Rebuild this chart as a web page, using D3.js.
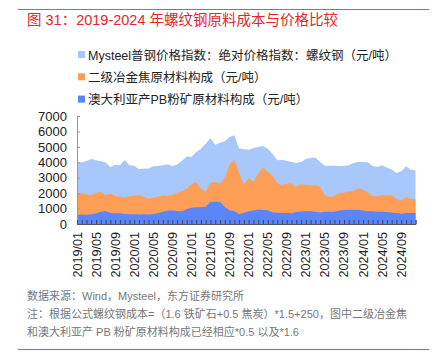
<!DOCTYPE html>
<html>
<head>
<meta charset="utf-8">
<script src="https://cdn.jsdelivr.net/npm/d3@7"></script>
<style>
  body { margin: 0; background: #fff; }
  svg { font-family: "Liberation Sans", Arial, "Noto Sans CJK SC", sans-serif; }
</style>
</head>
<body>
<div id="chart"></div>
<script>
// monthly 2019/01 .. 2024/12
const months = [];
for (let y = 2019; y <= 2024; y++) {
    for (let m = 1; m <= 12; m++) months.push(y + "/" + String(m).padStart(2, "0"));
}

const rebarIndex = [
    3970, 4010, 4080, 4210, 4130, 4060, 3990, 3690, 3840, 3800, 4150, 3800,
    3780, 3550, 3590, 3600, 3740, 3760, 3800, 3870, 3760, 3850, 4100, 4380,
    4340, 4670, 4880, 5200, 5570, 5140, 5270, 5360, 5640, 5750, 4890, 4840,
    4820, 4920, 4990, 5050, 4880, 4560, 4130, 4170, 4080, 4020, 3950, 4020,
    4220, 4280, 4300, 4020, 3780, 3780, 3780, 3760, 3780, 3800, 3960, 4040,
    4020, 4000, 3760, 3690, 3800, 3670, 3540, 3300, 3420, 3740, 3520, 3480
];
const cokeCost = [
    2000, 1990, 1920, 1880, 2030, 2070, 1870, 1960, 1820, 1780, 1740, 1780,
    1850, 1860, 1760, 1640, 1700, 1790, 1840, 1810, 1900, 2010, 2120, 2280,
    2570, 2720, 2290, 2100, 2680, 2720, 2640, 3000, 3870, 4150, 3320, 2530,
    2960, 2740, 3260, 3670, 3390, 3130, 2650, 2510, 2610, 2630, 2420, 2570,
    2550, 2510, 2510, 2400, 1880, 1750, 1810, 2030, 2030, 2120, 2120, 2330,
    2200, 2050, 1820, 1790, 1880, 1860, 1860, 1640, 1530, 1730, 1640, 1580
];
const oreCost = [
    580, 620, 600, 640, 700, 800, 850, 720, 700, 690, 650, 630,
    640, 620, 630, 620, 650, 720, 790, 880, 880, 850, 830, 980,
    1060, 1080, 1080, 1140, 1420, 1440, 1420, 1100, 890, 830, 650, 730,
    820, 870, 940, 910, 890, 760, 730, 730, 720, 690, 770, 810,
    830, 830, 790, 740, 800, 800, 800, 880, 900, 920, 930, 920,
    880, 820, 820, 800, 790, 770, 740, 710, 670, 720, 710, 710
];
const yTicks = [0, 1000, 2000, 3000, 4000, 5000, 6000, 7000];

const series = [
    { name: "Mysteel普钢价格指数：绝对价格指数：螺纹钢（元/吨）", values: rebarIndex, color: "#a8c8fc" },
    { name: "二级冶金焦原材料构成（元/吨）", values: cokeCost, color: "#ff9e57" },
    { name: "澳大利亚产PB粉矿原材料构成（元/吨）", values: oreCost, color: "#5b86fa" }
];

const width = 445, height = 353;
const svg = d3.select("#chart").append("svg")
    .attr("width", width)
    .attr("height", height);

// title + red rules
svg.append("line")
    .attr("x1", 18).attr("x2", 429).attr("y1", 9.5).attr("y2", 9.5)
    .attr("stroke", "#e8504f").attr("stroke-width", 1);
svg.append("text")
    .attr("x", 27).attr("y", 25)
    .attr("fill", "#e3262c")
    .style("font-size", "14.5px")
    .text("图 31：2019-2024 年螺纹钢原料成本与价格比较");

const x = d3.scalePoint().domain(months).range([77, 415.5]);
const y = d3.scaleLinear().domain([0, 7000]).range([224, 116]);

// areas, drawn back to front (overlapping, not stacked)
series.forEach(s => {
    const area = d3.area()
        .x((d, i) => x(months[i]))
        .y0(y(0))
        .y1(d => y(d));
    svg.append("path")
        .datum(s.values)
        .attr("d", area)
        .attr("fill", s.color);
});

// y axis
const yAxis = svg.append("g")
    .attr("transform", "translate(77,0)")
    .call(d3.axisLeft(y).tickValues(yTicks).tickSize(-3).tickPadding(10).tickFormat(d3.format("d")));
yAxis.select(".domain").attr("stroke", "#999");
yAxis.selectAll(".tick line").attr("stroke", "#999");
yAxis.selectAll("text").style("font-size", "13px").attr("fill", "#222");

// x axis, monthly ticks pointing inward, label every 4 months
const xAxis = svg.append("g")
    .attr("transform", "translate(0," + y(0) + ")")
    .call(d3.axisBottom(x).tickSize(-4).tickFormat(""));
xAxis.select(".domain").attr("stroke", "#556");
xAxis.selectAll(".tick line").attr("stroke", "#445");

svg.append("g").selectAll("text")
    .data(months.filter((d, i) => i % 4 === 0))
    .enter().append("text")
    .attr("transform", d => "translate(" + (x(d) + 4.5) + "," + (y(0) + 8) + ") rotate(-90)")
    .attr("text-anchor", "end")
    .attr("fill", "#222")
    .style("font-size", "12.6px")
    .text(d => d);

// legend
const legend = svg.selectAll(".legend")
    .data(series)
    .enter().append("g")
    .attr("class", "legend")
    .attr("transform", (d, i) => "translate(78," + (55 + i * 22.3) + ")");
legend.append("rect")
    .attr("x", 0).attr("y", -4)
    .attr("width", 7).attr("height", 7)
    .attr("fill", d => d.color);
legend.append("text")
    .attr("x", 10).attr("y", 4.5)
    .attr("fill", "#222")
    .style("font-size", "12.5px")
    .text(d => d.name);

// footnotes
const notes = [
    "数据来源：Wind，Mysteel，东方证券研究所",
    "注：根据公式螺纹钢成本=（1.6 铁矿石+0.5 焦炭）*1.5+250，图中二级冶金焦",
    "和澳大利亚产 PB 粉矿原材料构成已经相应*0.5 以及*1.6"
];
svg.selectAll(".note")
    .data(notes)
    .enter().append("text")
    .attr("class", "note")
    .attr("x", 27)
    .attr("y", (d, i) => 300 + i * 18)
    .attr("fill", "#777")
    .style("font-size", "11px")
    .text(d => d);

svg.append("line")
    .attr("x1", 18).attr("x2", 429).attr("y1", 349.5).attr("y2", 349.5)
    .attr("stroke", "#e8504f").attr("stroke-width", 1);
</script>
</body>
</html>
